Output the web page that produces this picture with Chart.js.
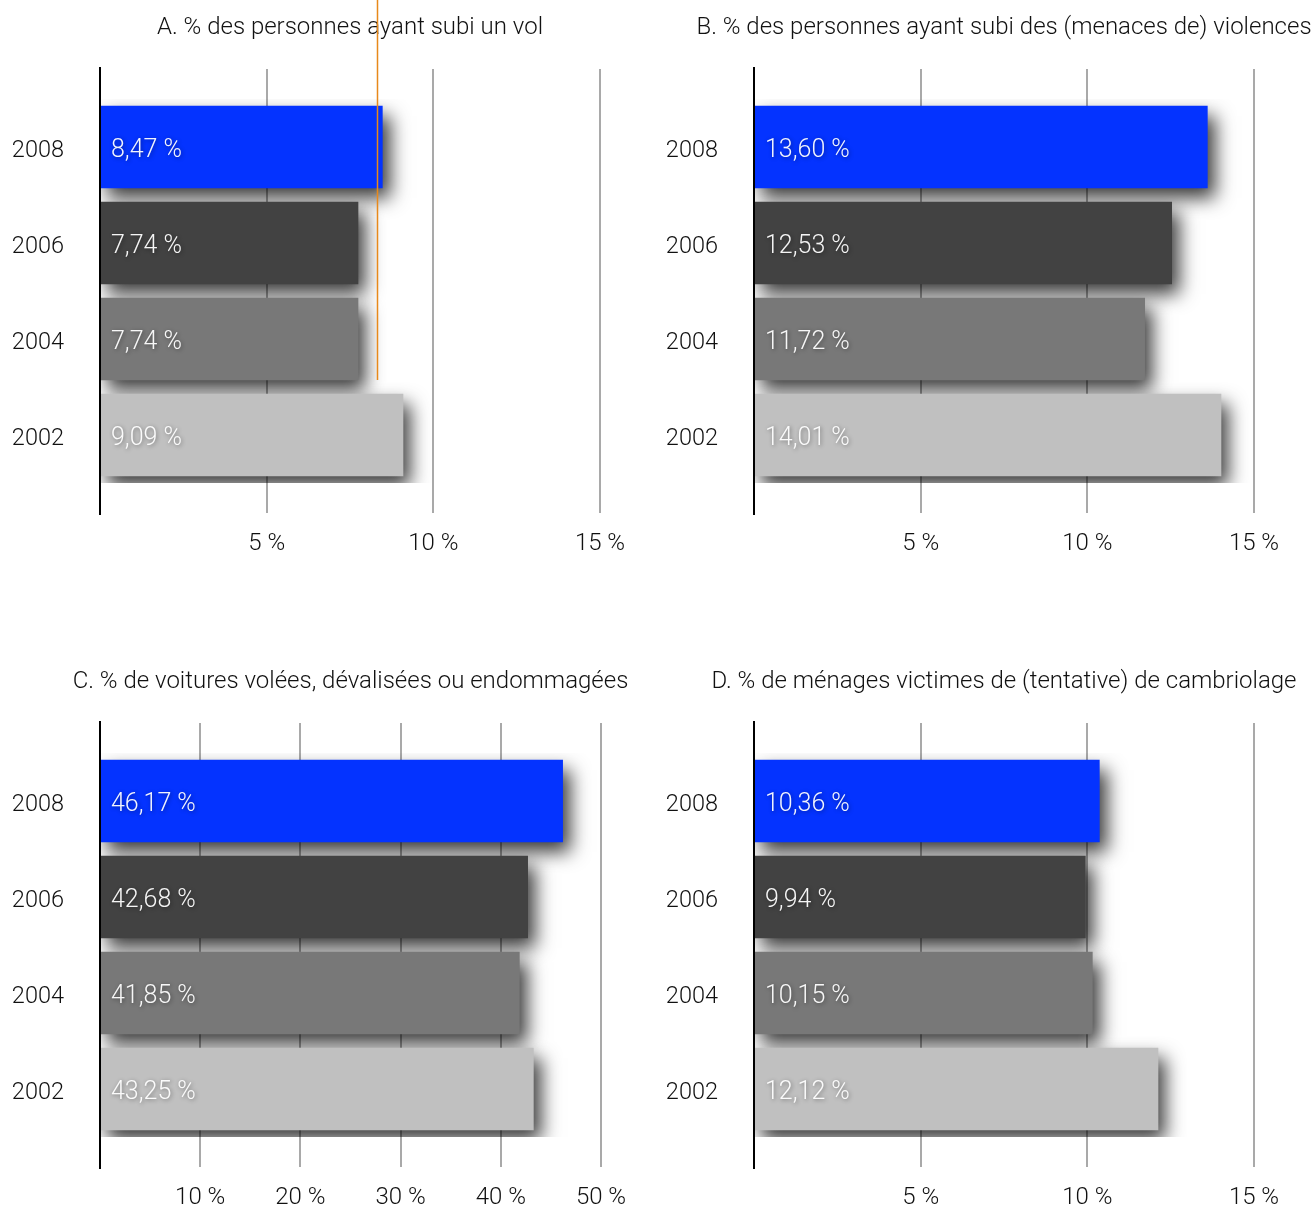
<!DOCTYPE html>
<html lang="fr">
<head>
<meta charset="utf-8">
<script src="https://cdn.jsdelivr.net/npm/chart.js@4"></script>
<style>
  body { margin: 0; background: #fff; width: 1315px; height: 1207px; overflow: hidden; position: relative; }
  canvas { position: absolute; }
</style>
</head>
<body>
<canvas id="graphA" width="657" height="600" style="left:0;top:0"></canvas>
<canvas id="graphB" width="661" height="600" style="left:654px;top:0"></canvas>
<canvas id="graphC" width="657" height="600" style="left:0;top:654px"></canvas>
<canvas id="graphD" width="661" height="600" style="left:654px;top:654px"></canvas>
<script>
const annees = ["2008", "2006", "2004", "2002"];
const vol = [8.47, 7.74, 7.74, 9.09];
const violences = [13.60, 12.53, 11.72, 14.01];
const voitures = [46.17, 42.68, 41.85, 43.25];
const cambriolage = [10.36, 9.94, 10.15, 12.12];
const couleurs = ["#0433ff", "#424242", "#787878", "#c0c0c0"];
const ticksPetits = [5, 10, 15];
const ticksVoitures = [10, 20, 30, 40, 50];
const repereA = 8.3;

const police = "Roboto, 'Liberation Sans', sans-serif";
Chart.defaults.font.family = police;
Chart.defaults.font.weight = "300";

function formatPct(v) {
  return v.toFixed(2).replace(".", ",") + " %";
}

const decor = {
  id: "decor",
  beforeDatasetsDraw(chart, args, opts) {
    const { ctx, chartArea: a, scales: { x } } = chart;
    ctx.save();
    ctx.strokeStyle = "#a9a9a9";
    ctx.lineWidth = 2;
    opts.ticks.forEach(t => {
      const px = Math.round(x.getPixelForValue(t));
      ctx.beginPath();
      ctx.moveTo(px, a.top - 30);
      ctx.lineTo(px, a.bottom + 30);
      ctx.stroke();
    });
    ctx.restore();
    // ombre des barres
    ctx.save();
    ctx.shadowColor = "rgba(0,0,0,0.78)";
    ctx.shadowBlur = 18;
    ctx.shadowOffsetX = 7;
    ctx.shadowOffsetY = 10;
  },
  afterDatasetsDraw(chart, args, opts) {
    const { ctx, chartArea: a, scales: { x } } = chart;
    ctx.restore();

    ctx.save();
    ctx.strokeStyle = "#000";
    ctx.lineWidth = 2;
    ctx.beginPath();
    ctx.moveTo(a.left, a.top - 32);
    ctx.lineTo(a.left, a.bottom + 32);
    ctx.stroke();

    const meta = chart.getDatasetMeta(0);
    const valeurs = chart.data.datasets[0].data;
    ctx.font = "300 25px " + police;
    ctx.textAlign = "left";
    ctx.textBaseline = "middle";
    ctx.fillStyle = "rgba(255,255,255,0.95)";
    ctx.shadowColor = "rgba(0,0,0,0.45)";
    ctx.shadowBlur = 4;
    ctx.shadowOffsetX = 1;
    ctx.shadowOffsetY = 1;
    meta.data.forEach((bar, i) => {
      ctx.fillText(formatPct(valeurs[i]), a.left + 11, bar.y + 4);
    });
    ctx.restore();

    ctx.save();
    ctx.font = "300 24px " + police;
    ctx.fillStyle = "#111";
    ctx.textAlign = "center";
    ctx.textBaseline = "middle";
    ctx.fillText(opts.titre, (a.left + a.right) / 2, 28);
    ctx.restore();

    if (opts.repere != null) {
      const px = Math.round(x.getPixelForValue(opts.repere)) + 0.5;
      const fin = meta.data[2].y + meta.data[2].height / 2;
      ctx.save();
      ctx.strokeStyle = "#e8891a";
      ctx.lineWidth = 1.5;
      ctx.beginPath();
      ctx.moveTo(px, 0);
      ctx.lineTo(px, fin);
      ctx.stroke();
      ctx.restore();
    }
  }
};

function graphique(id, titre, valeurs, max, pas, ticks, droite, repere) {
  new Chart(document.getElementById(id), {
    type: "bar",
    data: {
      labels: annees,
      datasets: [{
        data: valeurs,
        backgroundColor: couleurs,
        borderWidth: 0,
        barThickness: 82
      }]
    },
    options: {
      indexAxis: "y",
      responsive: false,
      animation: false,
      layout: { padding: { top: 99, right: droite, bottom: 0, left: 0 } },
      plugins: {
        legend: { display: false },
        title: { display: false },
        tooltip: { enabled: false },
        decor: { titre: titre, ticks: ticks, repere: repere }
      },
      scales: {
        x: {
          min: 0,
          max: max,
          grid: { display: false, drawTicks: false },
          border: { display: false },
          afterFit(scale) {
            scale.height = 117;
            scale.paddingLeft = 0;
            scale.paddingRight = 0;
          },
          ticks: {
            stepSize: pas,
            padding: 47,
            color: "#111",
            font: { size: 24, weight: "300" },
            callback: v => (v === 0 ? "" : v + " %")
          }
        },
        y: {
          grid: { display: false, drawTicks: false },
          border: { display: false },
          afterFit(scale) { scale.width = 100; },
          ticks: {
            padding: 36,
            labelOffset: 4,
            color: "#111",
            font: { size: 23.5, weight: "300" }
          }
        }
      }
    },
    plugins: [decor]
  });
}

graphique("graphA", "A. % des personnes ayant subi un vol", vol, 15, 5, ticksPetits, 57, repereA);
graphique("graphB", "B. % des personnes ayant subi des (menaces de) violences", violences, 15, 5, ticksPetits, 61, null);
graphique("graphC", "C. % de voitures volées, dévalisées ou endommagées", voitures, 50, 10, ticksVoitures, 56, null);
graphique("graphD", "D. % de ménages victimes de (tentative) de cambriolage", cambriolage, 15, 5, ticksPetits, 61, null);
</script>
</body>
</html>
